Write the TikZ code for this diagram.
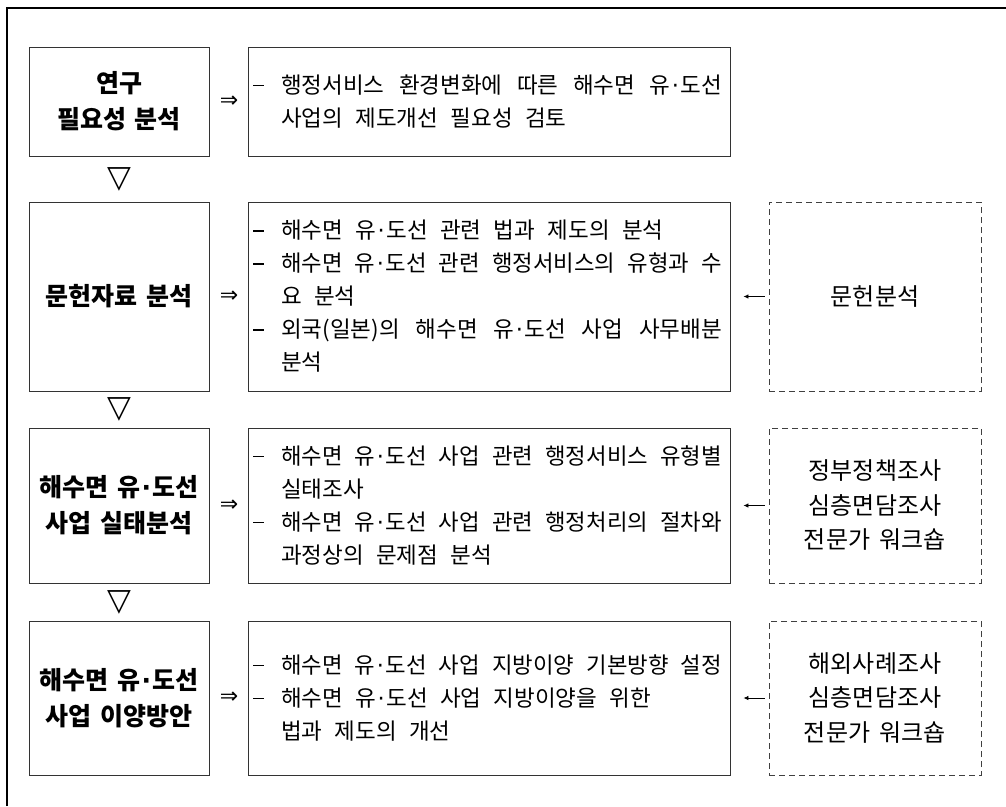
\documentclass[tikz,border=0pt]{standalone}
\usepackage{fontspec}
\usepackage{graphicx}
\setmainfont{Noto Sans CJK KR}
\newfontfamily\symfont{DejaVu Sans}
\usetikzlibrary{arrows.meta}
\newsavebox\linebox
\newcommand\md{{\symfont\hskip1.5pt·\hskip1.5pt}}
\newcommand\dashmark{\hskip2pt\raisebox{0.33em}{\rule{11pt}{1.5pt}}}
\newcommand\fitline[1]{\sbox\linebox{#1}\ifdim\wd\linebox>441pt \resizebox{441pt}{\height}{\usebox\linebox}\else\makebox[441pt][s]{#1}\fi}
\newcommand\dashj[1]{\hbox to 476pt{\hbox to 30pt{\dashmark\hfil}\fitline{#1}\hfil}}
\newcommand\dashn[1]{\hbox to 476pt{\hbox to 30pt{\dashmark\hfil}#1\hfil}}
\newcommand\contl[1]{\hbox to 476pt{\hskip30pt #1\hfil}}
\newcommand\midfont{\fontsize{22.5}{33}\selectfont\spaceskip 0.55em plus 1em minus 0.1em\relax}
\newcommand\leftfont{\fontsize{25}{36}\selectfont\bfseries\spaceskip 0.35em\relax}
\newcommand\srcfont{\fontsize{24}{34.5}\selectfont\spaceskip 0.4em\relax}
\tikzset{
 leftbox/.style={draw=black!80, line width=0.9pt, minimum width=180pt, inner sep=0pt, align=center, font=\leftfont},
 midbox/.style={draw=black!80, line width=0.9pt, minimum width=482pt, inner xsep=3pt, inner ysep=0pt, font=\midfont},
 srcbox/.style={draw=black!75, line width=0.9pt, dash pattern=on 6pt off 4pt, minimum width=212pt, inner sep=0pt, align=center, font=\srcfont},
 dnsym/.style={font=\symfont\fontsize{31}{31}\selectfont, inner sep=0pt},
 rsym/.style={font=\symfont\fontsize{22}{22}\selectfont, inner sep=0pt},
 feed/.style={draw=black, line width=0.8pt, -{Latex[length=5pt,width=4.5pt]}, shorten >=13pt, shorten <=4pt},
}
\begin{document}
\begin{tikzpicture}[x=1pt,y=-1pt]
\useasboundingbox (0,0) rectangle (1006,806);
\fill[white] (0,0) rectangle (1006,806);
% outer frame (top and left edges)
\coordinate (fbl) at (7,806);
\coordinate (ftl) at (7,8);
\coordinate (ftr) at (1006,8);
\draw[line width=1.5pt] (fbl) -- (ftl) -- (ftr);

% left column
\node[leftbox, minimum height=109pt] (l1) at (119,101.5) {연구\\필요성 분석};
\node[leftbox, minimum height=189pt] (l2) at (119,296.5) {문헌자료 분석};
\node[leftbox, minimum height=155pt] (l3) at (119,505.5) {해수면 유\md 도선\\사업 실태분석};
\node[leftbox, minimum height=154pt] (l4) at (119,698) {해수면 유\md 도선\\사업 이양방안};

% down triangles
\node[dnsym] (v1) at (119,179) {▽};
\node[dnsym] (v2) at (119,409.5) {▽};
\node[dnsym] (v3) at (119,602) {▽};

% right double arrows
\node[rsym] (r1) at (229,101.5) {⇒};
\node[rsym] (r2) at (229,296.5) {⇒};
\node[rsym] (r3) at (229,505.5) {⇒};
\node[rsym] (r4) at (229,698) {⇒};

% middle column
\node[midbox, minimum height=109pt] (m1) at (489,101.5) {\vbox{%
\dashj{행정서비스 환경변화에 따른 해수면 유\md 도선}
\contl{사업의 제도개선 필요성 검토}}};
\node[midbox, minimum height=189pt] (m2) at (489,296.5) {\vbox{%
\dashn{해수면 유\md 도선 관련 법과 제도의 분석}
\dashj{해수면 유\md 도선 관련 행정서비스의 유형과 수}
\contl{요 분석}
\dashj{외국(일본)의 해수면 유\md 도선 사업 사무배분}
\contl{분석}}};
\node[midbox, minimum height=155pt] (m3) at (489,505.5) {\vbox{%
\dashj{해수면 유\md 도선 사업 관련 행정서비스 유형별}
\contl{실태조사}
\dashj{해수면 유\md 도선 사업 관련 행정처리의 절차와}
\contl{과정상의 문제점 분석}}};
\node[midbox, minimum height=154pt] (m4) at (489,698) {\vbox{%
\dashj{해수면 유\md 도선 사업 지방이양 기본방향 설정}
\dashn{해수면 유\md 도선 사업 지방이양을 위한}
\contl{법과 제도의 개선}}};

% source boxes
\node[srcbox, minimum height=189pt] (d2) at (875,296.5) {문헌분석};
\node[srcbox, minimum height=155pt] (d3) at (875,505.5) {정부정책조사\\심층면담조사\\전문가 워크숍};
\node[srcbox, minimum height=154pt] (d4) at (875,698) {해외사례조사\\심층면담조사\\전문가 워크숍};

\draw[feed] (d2.west) -- (m2.east);
\draw[feed] (d3.west) -- (m3.east);
\draw[feed] (d4.west) -- (m4.east);
\end{tikzpicture}
\end{document}
